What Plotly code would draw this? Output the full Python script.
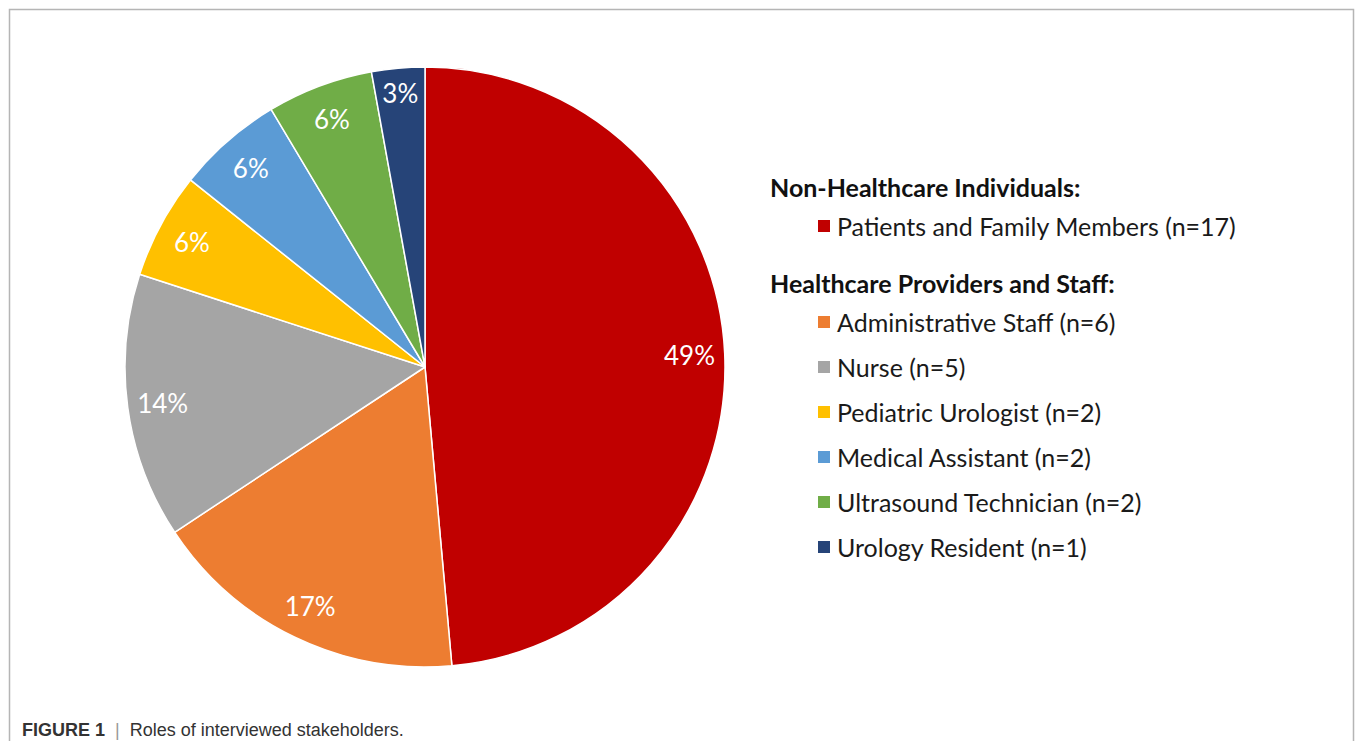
import plotly.graph_objects as go

# ---- data ----
roles = ["Patients and Family Members", "Administrative Staff", "Nurse",
         "Pediatric Urologist", "Medical Assistant", "Ultrasound Technician",
         "Urology Resident"]
counts = [17, 6, 5, 2, 2, 2, 1]
groups = ["Non-Healthcare Individuals:", "Healthcare Providers and Staff:",
          "Healthcare Providers and Staff:", "Healthcare Providers and Staff:",
          "Healthcare Providers and Staff:", "Healthcare Providers and Staff:",
          "Healthcare Providers and Staff:"]
colors = ["#C00000", "#ED7D31", "#A5A5A5", "#FFC000", "#5B9BD5", "#70AD47", "#264478"]
caption_bold = "FIGURE 1"
caption_text = "Roles of interviewed stakeholders."

W, H = 1355, 741
def px(x):
    return x / W
def py(y):
    return 1 - y / H

FONT = "Lato"
dom = dict(x=[px(125), px(725)], y=[py(667), py(67)])

fig = go.Figure()
# colored pie
fig.add_trace(go.Pie(
    values=counts, labels=roles, sort=False, direction="clockwise", rotation=0,
    marker=dict(colors=colors, line=dict(color="white", width=1.5)),
    textinfo="none", hoverinfo="skip", showlegend=False, domain=dom,
))
# transparent ring to place percentage labels near the rim
fig.add_trace(go.Pie(
    values=counts, labels=roles, sort=False, direction="clockwise", rotation=0,
    hole=0.765,
    marker=dict(colors=["rgba(0,0,0,0)"] * len(counts), line=dict(width=0)),
    texttemplate="%{percent:.0%}", textposition="inside",
    insidetextorientation="horizontal",
    textfont=dict(family=FONT, size=26, color="white"),
    hoverinfo="skip", showlegend=False, domain=dom,
))

annotations = []
shapes = []

# custom legend
y = 187
prev_group = None
row_gap = 45
for role, n, g, c in zip(roles, counts, groups, colors):
    if g != prev_group:
        if prev_group is not None:
            y += 12
        annotations.append(dict(
            x=px(768), y=py(y), xref="paper", yref="paper", xanchor="left", yanchor="middle",
            text=f"<b>{g}</b>", showarrow=False,
            font=dict(family=FONT, size=25, color="#111111")))
        y += 39
        prev_group = g
    shapes.append(dict(type="rect", xref="paper", yref="paper",
                       x0=px(818), x1=px(830), y0=py(y + 6), y1=py(y - 6),
                       fillcolor=c, line=dict(width=0)))
    annotations.append(dict(
        x=px(835), y=py(y), xref="paper", yref="paper", xanchor="left", yanchor="middle",
        text=f"{role} (n={n})", showarrow=False,
        font=dict(family=FONT, size=25, color="#1a1a1a")))
    y += row_gap

# caption
annotations.append(dict(
    x=px(20), y=py(730), xref="paper", yref="paper", xanchor="left", yanchor="middle",
    text=f"<b>{caption_bold}</b>  <span style='color:#999999'>|</span>  {caption_text}",
    showarrow=False, font=dict(family="Liberation Sans", size=18, color="#333333")))

# frame
shapes.append(dict(type="rect", xref="paper", yref="paper",
                   x0=px(9.5), x1=px(1353.5), y0=-0.05, y1=py(9.5),
                   line=dict(color="#b5b5b5", width=1.5), fillcolor="rgba(0,0,0,0)"))

fig.update_layout(
    width=W, height=H, margin=dict(l=0, r=0, t=0, b=0),
    paper_bgcolor="white", plot_bgcolor="white",
    annotations=annotations, shapes=shapes,
    uniformtext=dict(minsize=26, mode="show"),
)

fig.write_html("out.html", config={"displayModeBar": False},
               post_script="document.body.style.margin='0';document.body.style.overflow='hidden';")
